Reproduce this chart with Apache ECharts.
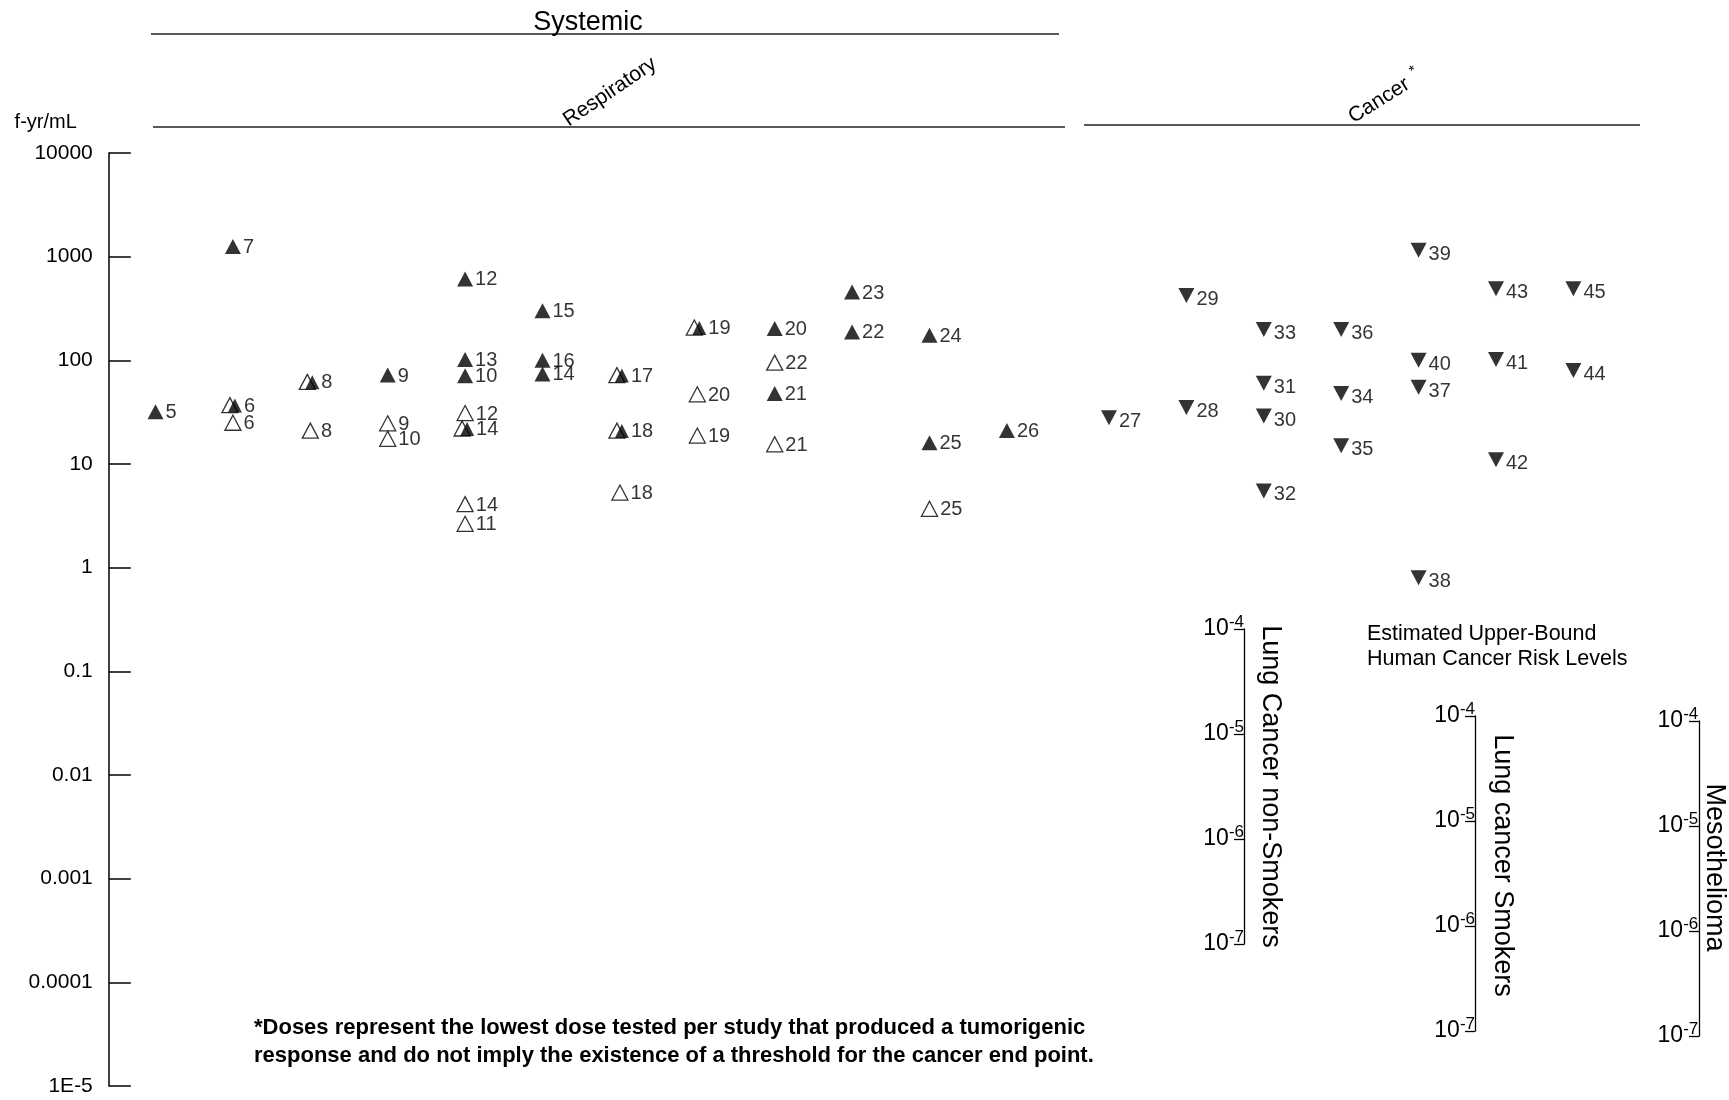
<!DOCTYPE html>
<html><head><meta charset="utf-8">
<script src="https://cdn.jsdelivr.net/npm/echarts@6/dist/echarts.min.js"></script>
<style>html,body{margin:0;padding:0;background:#fff;}#c{width:1729px;height:1100px;}</style>
</head><body><div id="c"></div>
<script>
// ---- categories (columns) ----
const respiratoryColumns = ['R1','R2','R3','R4','R5','R6','R7','R8','R9','R10','R11','R12'];
const cancerColumns = ['C1','C2','C3','C4','C5','C6','C7'];
// ---- tick labels ----
const yTickLabels = ['1E-5','0.0001','0.001','0.01','0.1','1','10','100','1000','10000'];
const riskExponents = ['-7','-6','-5','-4'];
// ---- data: [column index, f-yr/mL, study number] ----
const filledUp = [
  [0, 32, '5'], [1, 1250, '7'], [3, 72, '9'], [4, 610, '12'], [4, 102, '13'], [4, 71, '10'],
  [5, 300, '15'], [5, 100, '16'], [5, 74, '14'], [8, 203, '20'], [8, 48, '21'],
  [9, 455, '23'], [9, 188, '22'], [10, 175, '24'], [10, 16, '25'], [11, 21, '26']
];
const halfUp = [
  [1, 37, '6'], [2, 62, '8'], [4, 22, '14'], [6, 72, '17'], [6, 21, '18'], [7, 207, '19']
];
const openUp = [
  [1, 25, '6'], [2, 21, '8'], [3, 24.7, '9'], [3, 17.5, '10'], [4, 31, '12'], [4, 4.1, '14'],
  [4, 2.65, '11'], [6, 5.3, '18'], [7, 47, '20'], [7, 18.8, '19'], [8, 95, '22'],
  [8, 15.5, '21'], [10, 3.7, '25']
];
const cancerDown = [
  [0, 28, '27'], [1, 422, '29'], [1, 35, '28'], [2, 198, '33'], [2, 60, '31'], [2, 29, '30'],
  [2, 5.5, '32'], [3, 198, '36'], [3, 48, '34'], [3, 15, '35'], [4, 1150, '39'], [4, 100, '40'],
  [4, 55, '37'], [4, 0.8, '38'], [5, 490, '43'], [5, 102, '41'], [5, 11, '42'], [6, 490, '45'], [6, 80, '44']
];
const riskScales = ['Lung Cancer non-Smokers', 'Lung cancer Smokers', 'Mesothelioma'];

const FONT = "'Liberation Sans', Arial, Helvetica, sans-serif";
const chart = echarts.init(document.getElementById('c'), null, {renderer: 'canvas', width: 1729, height: 1100});

const labelCfg = (dy) => ({
  show: true, position: 'right', distance: 2, offset: [0, dy],
  formatter: p => p.value[2], color: '#000', fontSize: 20, fontFamily: FONT
});

function mainY(show) {
  return {
    type: 'log', logBase: 10, min: 1e-5, max: 1e4, splitNumber: 9,
    show: show, offset: 8,
    name: show ? 'f-yr/mL' : '', nameLocation: 'end', nameGap: 21,
    nameTextStyle: {color: '#000', fontSize: 20, fontFamily: FONT, align: 'right', padding: [0, 32, 0, 0]},
    axisLine: {show: true, lineStyle: {color: '#000', width: 1.5}},
    axisTick: {show: true, inside: true, length: 22, lineStyle: {color: '#000', width: 1.5}},
    axisLabel: {show: true, margin: 16, color: '#000', fontSize: 21, fontFamily: FONT,
      showMinLabel: true, showMaxLabel: true,
      formatter: v => yTickLabels[Math.round(Math.log10(v)) + 5]},
    splitLine: {show: false}, minorTick: {show: false}
  };
}

function riskY(gridIndex, name, gap, shiftUp) {
  return {
    type: 'log', logBase: 10, min: 1e-7, max: 1e-4, splitNumber: 3, gridIndex: gridIndex,
    position: 'right',
    name: name, nameLocation: 'middle', nameRotate: -90, nameGap: gap, nameMoveOverlap: false,
    nameTextStyle: {color: '#000', fontSize: 27, fontFamily: FONT, padding: [0, shiftUp * 2, 0, 0]},
    axisLine: {show: true, lineStyle: {color: '#000', width: 1.3}},
    axisTick: {show: true, inside: true, length: 10, lineStyle: {color: '#000', width: 1.3}},
    axisLabel: {show: true, inside: true, margin: 1, color: '#000', fontSize: 23, fontFamily: FONT,
      showMinLabel: true, showMaxLabel: true,
      formatter: v => '10{sup|' + riskExponents[Math.round(Math.log10(v)) + 7] + '}',
      rich: {sup: {fontSize: 17, fontFamily: FONT, color: '#000', verticalAlign: 'bottom', padding: [0, 0, 13, 0]}}},
    splitLine: {show: false}, minorTick: {show: false}
  };
}

const option = {
  backgroundColor: '#fff',
  animation: false,
  grid: [
    {left: 116.8, top: 153, width: 928.8, height: 933},
    {left: 1070.3, top: 153, width: 541.8, height: 933},
    {left: 1244, top: 629, width: 1, height: 315},
    {left: 1475, top: 716, width: 1, height: 315},
    {left: 1699, top: 721, width: 1, height: 315}
  ],
  xAxis: [
    {type: 'category', data: respiratoryColumns, gridIndex: 0, show: false, boundaryGap: true},
    {type: 'category', data: cancerColumns, gridIndex: 1, show: false, boundaryGap: true},
    {type: 'value', gridIndex: 2, show: false},
    {type: 'value', gridIndex: 3, show: false},
    {type: 'value', gridIndex: 4, show: false}
  ],
  yAxis: [
    Object.assign(mainY(true), {gridIndex: 0}),
    Object.assign(mainY(false), {gridIndex: 1}),
    riskY(2, riskScales[0], 12, 0),
    riskY(3, riskScales[1], 13, 8),
    riskY(4, riskScales[2], 2, 11)
  ],
  series: [
    {type: 'scatter', name: 'open', xAxisIndex: 0, yAxisIndex: 0, data: openUp, symbol: 'triangle',
     symbolSize: [16, 15], itemStyle: {color: '#fff', borderColor: '#000', borderWidth: 1.3},
     label: labelCfg(1), z: 3},
    {type: 'scatter', name: 'half-open', xAxisIndex: 0, yAxisIndex: 0, data: halfUp, symbol: 'triangle',
     symbolSize: [16, 15], symbolOffset: [-3, 0], itemStyle: {color: '#fff', borderColor: '#000', borderWidth: 1.3},
     label: {show: false}, z: 3},
    {type: 'scatter', name: 'half-filled', xAxisIndex: 0, yAxisIndex: 0, data: halfUp, symbol: 'triangle',
     symbolSize: [14, 14], symbolOffset: [2, 0.5], itemStyle: {color: '#000'},
     label: labelCfg(0.5), z: 4},
    {type: 'scatter', name: 'filled', xAxisIndex: 0, yAxisIndex: 0, data: filledUp, symbol: 'triangle',
     symbolSize: [16, 15], itemStyle: {color: '#000'}, label: labelCfg(1), z: 4},
    {type: 'scatter', name: 'cancer', xAxisIndex: 1, yAxisIndex: 1, data: cancerDown, symbol: 'triangle',
     symbolRotate: 180, symbolSize: [16, 15], itemStyle: {color: '#000'}, label: labelCfg(4), z: 4}
  ],
  graphic: [
    {type: 'line', shape: {x1: 151, y1: 34, x2: 1059, y2: 34}, style: {stroke: '#222', lineWidth: 1.5}},
    {type: 'text', x: 588, y: 23, style: {text: 'Systemic', fill: '#000', font: '27px ' + FONT, align: 'center', verticalAlign: 'middle'}},
    {type: 'line', shape: {x1: 153, y1: 127, x2: 1065, y2: 127}, style: {stroke: '#222', lineWidth: 1.5}},
    {type: 'text', x: 610, y: 92, rotation: 34 * Math.PI / 180,
     style: {text: 'Respiratory', fill: '#000', font: '21px ' + FONT, align: 'center', verticalAlign: 'middle'}},
    {type: 'line', shape: {x1: 1084, y1: 125, x2: 1640, y2: 125}, style: {stroke: '#222', lineWidth: 1.5}},
    {type: 'text', x: 1385, y: 97, rotation: 32 * Math.PI / 180,
     style: {text: 'Cancer{s|*}', fill: '#000', font: '21px ' + FONT, align: 'center', verticalAlign: 'middle',
       rich: {s: {fontSize: 15, fontFamily: FONT, verticalAlign: 'bottom', padding: [0, 0, 14, 8]}}}},
    {type: 'text', x: 1367, y: 622,
     style: {text: 'Estimated Upper-Bound\nHuman Cancer Risk Levels', fill: '#000', font: '21.5px ' + FONT, lineHeight: 25, align: 'left', verticalAlign: 'top'}},
    {type: 'text', x: 254, y: 1014,
     style: {text: '*Doses represent the lowest dose tested per study that produced a tumorigenic\nresponse and do not imply the existence of a threshold for the cancer end point.',
       fill: '#000', font: 'bold 22px ' + FONT, lineHeight: 28, align: 'left', verticalAlign: 'top'}}
  ]
};
chart.setOption(option);
</script></body></html>
